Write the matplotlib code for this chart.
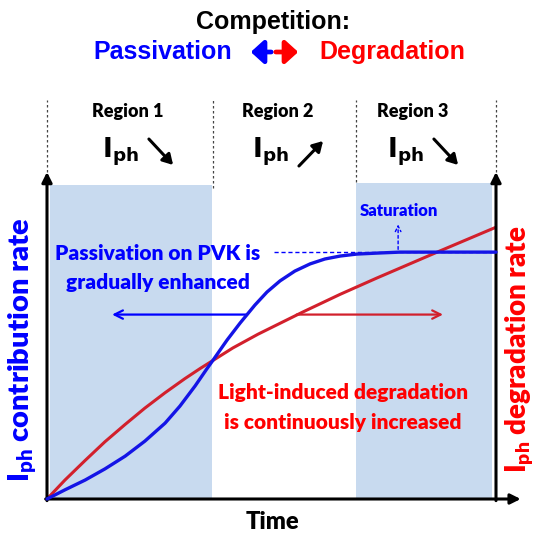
import matplotlib
matplotlib.use("Agg")
import matplotlib.pyplot as plt
from matplotlib.patches import FancyArrowPatch

# ---- data (normalised time 0..1, normalised rate 0..1) ----
passiv_t = [0.0, 0.040, 0.085, 0.129, 0.174, 0.218, 0.263, 0.296, 0.330, 0.356, 0.370,
            0.401, 0.430, 0.463, 0.490, 0.519, 0.552, 0.586, 0.619, 0.653, 0.690,
            0.735, 0.786, 1.0]
passiv_rate = [0.0, 0.028, 0.058, 0.092, 0.131, 0.177, 0.232, 0.284, 0.346, 0.398, 0.425,
               0.486, 0.538, 0.593, 0.633, 0.667, 0.697, 0.719, 0.734, 0.743, 0.749,
               0.752, 0.755, 0.755]
degr_t = [0.0, 0.040, 0.085, 0.129, 0.174, 0.218, 0.263, 0.307, 0.341, 0.370, 0.414,
          0.470, 0.570, 0.653, 0.735, 0.869, 0.998]
degr_rate = [0.0, 0.058, 0.118, 0.175, 0.228, 0.278, 0.325, 0.368, 0.399, 0.424, 0.462,
             0.504, 0.572, 0.626, 0.676, 0.755, 0.830]

region_bounds = [0.0, 0.37, 0.688, 1.0]
region_labels = ["Region 1", "Region 2", "Region 3"]
region_trend = ["down", "up", "down"]
shaded_regions = [(0.007, 0.367, 0.960), (0.688, 0.991, 0.966)]
saturation_level = 0.755

BLUE = "#0000ff"
RED = "#ff0000"
CURVE_BLUE = "#1414e6"
CURVE_RED = "#d2202c"
SHADE = "#c8daef"
CAL = ["Lato", "DejaVu Sans"]
ARIAL = ["Liberation Sans", "DejaVu Sans"]
HEAVY = "heavy"

W, H = 537, 535
fig = plt.figure(figsize=(W / 100, H / 100), dpi=100)
x0, y0, x1, y1 = 47, 499, 496, 172
ax = fig.add_axes([x0 / W, 1 - y0 / H, (x1 - x0) / W, (y0 - y1) / H])
ax.set_xlim(0, 1)
ax.set_ylim(0, 1)
ax.axis("off")


def fx(px):
    return px / W


def fy(py):
    return 1 - py / H


# shaded regions
for a, b, top in shaded_regions:
    ax.fill_between([a, b], 0, top, color=SHADE, lw=0, zorder=0)

# dashed region separators
for xb, ybot in zip(region_bounds, [1.0, 0.95, 0.97, 1.0]):
    ax.plot([xb, xb], [ybot, 1.22], ls=(0, (2, 2)), color="#444444", lw=0.9,
            clip_on=False, zorder=1)

# curves
ax.plot(degr_t, degr_rate, color=CURVE_RED, lw=2.2, zorder=3, clip_on=False,
        solid_joinstyle="round", solid_capstyle="round")
ax.plot(passiv_t, passiv_rate, color=CURVE_BLUE, lw=2.4, zorder=4, clip_on=False,
        solid_joinstyle="round", solid_capstyle="round")

# saturation dashed line and arrow
ax.plot([0.505, 1.0], [saturation_level, saturation_level], ls=(0, (3, 2)),
        color=BLUE, lw=1.0, zorder=2)
ax.annotate("", xy=(0.782, 0.848), xytext=(0.782, saturation_level),
            arrowprops=dict(arrowstyle="->", ls=(0, (2, 2)), color=BLUE, lw=1.0))
ax.text(0.783, 0.880, "Saturation", color=BLUE, fontsize=12, fontweight=HEAVY,
        family=CAL, ha="center", va="center")

# axis arrows
arrow_kw = dict(arrowstyle="-|>,head_length=0.6,head_width=0.3", color="black", lw=2.2,
                shrinkA=0, shrinkB=0)
ax.annotate("", xy=(0, 1.0), xytext=(0, -0.005), arrowprops=arrow_kw, annotation_clip=False)
ax.annotate("", xy=(1.0, 1.0), xytext=(1.0, -0.005), arrowprops=arrow_kw, annotation_clip=False)
ax.annotate("", xy=(1.055, 0), xytext=(-0.003, 0), arrowprops=arrow_kw, annotation_clip=False)

# horizontal direction arrows
ax.annotate("", xy=(0.145, 0.564), xytext=(0.445, 0.564),
            arrowprops=dict(arrowstyle="->,head_length=0.6,head_width=0.3", color=BLUE, lw=1.6,
                            shrinkA=0, shrinkB=0))
ax.annotate("", xy=(0.882, 0.564), xytext=(0.556, 0.564),
            arrowprops=dict(arrowstyle="->,head_length=0.6,head_width=0.3", color=CURVE_RED, lw=1.6,
                            shrinkA=0, shrinkB=0))

# annotations in the plot
for txt, px, py, col in [("Passivation on PVK is", 158, 253, BLUE),
                         ("gradually enhanced", 158, 282, BLUE),
                         ("Light-induced degradation", 343, 392, RED),
                         ("is continuously increased", 343, 423, RED)]:
    fig.text(fx(px), fy(py), txt, color=col, fontsize=15, fontweight=HEAVY,
             family=CAL, ha="center", va="center")

# title
fig.text(fx(273), fy(22), "Competition:", color="black", fontsize=18,
         fontweight="bold", family=ARIAL, ha="center", va="center")
fig.text(fx(163), fy(52), "Passivation", color=BLUE, fontsize=18,
         fontweight="bold", family=ARIAL, ha="center", va="center")
fig.text(fx(392), fy(52), "Degradation", color=RED, fontsize=18,
         fontweight="bold", family=ARIAL, ha="center", va="center")
fig.patches.append(FancyArrowPatch(
    (fx(274), fy(52)), (fx(248), fy(52)), transform=fig.transFigure,
    arrowstyle="-|>,head_length=0.55,head_width=0.5", color=BLUE, lw=3.4, mutation_scale=14))
fig.patches.append(FancyArrowPatch(
    (fx(273), fy(52)), (fx(301), fy(52)), transform=fig.transFigure,
    arrowstyle="-|>,head_length=0.55,head_width=0.5", color=RED, lw=3.4, mutation_scale=14))

# region labels and trends
label_x = [128, 278, 413]
for i, (lab, trend) in enumerate(zip(region_labels, region_trend)):
    cx = label_x[i]
    fig.text(fx(cx), fy(111), lab, color="black", fontsize=13, fontweight=HEAVY,
             family=CAL, ha="center", va="center")
    fig.text(fx(cx - 8), fy(152), r"$\mathbf{I}_{\mathbf{ph}}$", color="black",
             fontsize=19, ha="center", va="center")
    if trend == "down":
        p0, p1 = (cx + 19, 137), (cx + 47, 167)
    else:
        p0, p1 = (cx + 19, 168), (cx + 47, 139)
    fig.patches.append(FancyArrowPatch(
        (fx(p0[0]), fy(p0[1])), (fx(p1[0]), fy(p1[1])), transform=fig.transFigure,
        arrowstyle="-|>,head_length=0.6,head_width=0.35", color="black", lw=2.2,
        mutation_scale=10))

# axis labels
fig.text(fx(272), fy(522), "Time", color="black", fontsize=17, fontweight=HEAVY,
         family=CAL, ha="center", va="center")
fig.text(fx(23), fy(350), r"I$_{\mathregular{ph}}$ contribution rate", color=BLUE,
         fontsize=21, fontweight=HEAVY, family=CAL, rotation=90, ha="center", va="center")
fig.text(fx(520), fy(349), r"I$_{\mathregular{ph}}$ degradation rate", color=RED,
         fontsize=20, fontweight=HEAVY, family=CAL, rotation=90, ha="center", va="center")

fig.savefig("out.png", dpi=100)
